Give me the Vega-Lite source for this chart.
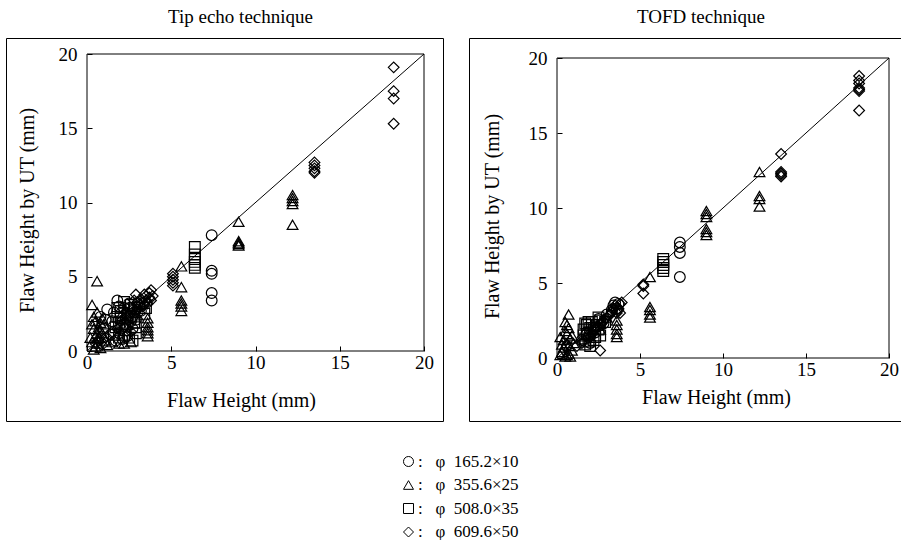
{
  "$schema": "https://vega.github.io/schema/vega-lite/v6.json",
  "padding": {"left": 5, "top": 7, "right": 0, "bottom": 0},
  "background": "white",
  "datasets": {
    "frame": [{"x": 0, "xe": 20, "y": 0, "ye": 20}],
    "diag": [{"x": 0, "y": 0}, {"x": 20, "y": 20}],
    "tip": [
      {"pipe": "165.2×10", "x": 7.4, "y": 7.8}, {"pipe": "165.2×10", "x": 7.4, "y": 5.4}, {"pipe": "165.2×10", "x": 7.4, "y": 5.2}, {"pipe": "165.2×10", "x": 7.4, "y": 3.9}, {"pipe": "165.2×10", "x": 7.4, "y": 3.4},
      {"pipe": "165.2×10", "x": 1.8, "y": 3.4}, {"pipe": "165.2×10", "x": 1.2, "y": 2.8}, {"pipe": "165.2×10", "x": 2.5, "y": 3.2}, {"pipe": "165.2×10", "x": 2.0, "y": 2.5}, {"pipe": "165.2×10", "x": 1.5, "y": 2.0}, {"pipe": "165.2×10", "x": 2.2, "y": 1.8}, {"pipe": "165.2×10", "x": 2.8, "y": 2.6}, {"pipe": "165.2×10", "x": 1.0, "y": 1.5}, {"pipe": "165.2×10", "x": 1.9, "y": 1.2}, {"pipe": "165.2×10", "x": 2.4, "y": 1.0}, {"pipe": "165.2×10", "x": 3.0, "y": 3.0}, {"pipe": "165.2×10", "x": 0.8, "y": 2.3}, {"pipe": "165.2×10", "x": 2.6, "y": 2.0}, {"pipe": "165.2×10", "x": 3.4, "y": 3.3}, {"pipe": "165.2×10", "x": 2.1, "y": 0.8}, {"pipe": "165.2×10", "x": 1.9, "y": 3.0}, {"pipe": "165.2×10", "x": 2.5, "y": 2.9},
      {"pipe": "165.2×10", "x": 1.6, "y": 2.6}, {"pipe": "165.2×10", "x": 2.3, "y": 2.2}, {"pipe": "165.2×10", "x": 2.7, "y": 1.5}, {"pipe": "165.2×10", "x": 1.4, "y": 1.1}, {"pipe": "165.2×10", "x": 2.0, "y": 1.5}, {"pipe": "165.2×10", "x": 2.9, "y": 2.1}, {"pipe": "165.2×10", "x": 1.7, "y": 0.7}, {"pipe": "165.2×10", "x": 2.2, "y": 2.9}, {"pipe": "165.2×10", "x": 3.2, "y": 2.7}, {"pipe": "165.2×10", "x": 1.1, "y": 2.1},
      {"pipe": "355.6×25", "x": 12.2, "y": 10.5}, {"pipe": "355.6×25", "x": 12.2, "y": 10.3}, {"pipe": "355.6×25", "x": 12.2, "y": 10.1}, {"pipe": "355.6×25", "x": 12.2, "y": 9.9}, {"pipe": "355.6×25", "x": 12.2, "y": 8.5},
      {"pipe": "355.6×25", "x": 9.0, "y": 8.7}, {"pipe": "355.6×25", "x": 9.0, "y": 7.4}, {"pipe": "355.6×25", "x": 9.0, "y": 7.3}, {"pipe": "355.6×25", "x": 9.0, "y": 7.2}, {"pipe": "355.6×25", "x": 9.0, "y": 7.1},
      {"pipe": "355.6×25", "x": 5.6, "y": 5.7}, {"pipe": "355.6×25", "x": 5.6, "y": 4.3}, {"pipe": "355.6×25", "x": 5.6, "y": 3.4}, {"pipe": "355.6×25", "x": 5.6, "y": 3.2}, {"pipe": "355.6×25", "x": 5.6, "y": 3.0}, {"pipe": "355.6×25", "x": 5.6, "y": 2.7},
      {"pipe": "355.6×25", "x": 3.6, "y": 2.2}, {"pipe": "355.6×25", "x": 3.6, "y": 1.9}, {"pipe": "355.6×25", "x": 3.6, "y": 1.6}, {"pipe": "355.6×25", "x": 3.6, "y": 1.4}, {"pipe": "355.6×25", "x": 3.6, "y": 1.2}, {"pipe": "355.6×25", "x": 3.6, "y": 1.0},
      {"pipe": "355.6×25", "x": 0.6, "y": 4.7}, {"pipe": "355.6×25", "x": 0.3, "y": 3.1}, {"pipe": "355.6×25", "x": 0.6, "y": 2.6}, {"pipe": "355.6×25", "x": 0.5, "y": 2.0}, {"pipe": "355.6×25", "x": 0.4, "y": 1.5}, {"pipe": "355.6×25", "x": 0.6, "y": 1.2}, {"pipe": "355.6×25", "x": 0.7, "y": 0.9}, {"pipe": "355.6×25", "x": 0.3, "y": 0.6}, {"pipe": "355.6×25", "x": 0.5, "y": 0.3}, {"pipe": "355.6×25", "x": 0.8, "y": 0.2}, {"pipe": "355.6×25", "x": 1.0, "y": 1.8}, {"pipe": "355.6×25", "x": 1.9, "y": 0.5}, {"pipe": "355.6×25", "x": 2.6, "y": 0.6}, {"pipe": "355.6×25", "x": 3.0, "y": 2.4}, {"pipe": "355.6×25", "x": 0.9, "y": 2.2}, {"pipe": "355.6×25", "x": 0.2, "y": 0.9}, {"pipe": "355.6×25", "x": 1.2, "y": 0.4}, {"pipe": "355.6×25", "x": 0.4, "y": 0.1}, {"pipe": "355.6×25", "x": 0.7, "y": 1.6}, {"pipe": "355.6×25", "x": 0.6, "y": 0.5},
      {"pipe": "355.6×25", "x": 0.5, "y": 1.0}, {"pipe": "355.6×25", "x": 0.7, "y": 1.4}, {"pipe": "355.6×25", "x": 0.4, "y": 2.3}, {"pipe": "355.6×25", "x": 0.9, "y": 1.2}, {"pipe": "355.6×25", "x": 0.3, "y": 1.8}, {"pipe": "355.6×25", "x": 1.1, "y": 0.7}, {"pipe": "355.6×25", "x": 0.6, "y": 0.8}, {"pipe": "355.6×25", "x": 0.8, "y": 1.9}, {"pipe": "355.6×25", "x": 2.2, "y": 0.5}, {"pipe": "355.6×25", "x": 1.5, "y": 0.6},
      {"pipe": "508.0×35", "x": 6.4, "y": 7.0}, {"pipe": "508.0×35", "x": 6.4, "y": 6.5}, {"pipe": "508.0×35", "x": 6.4, "y": 6.2}, {"pipe": "508.0×35", "x": 6.4, "y": 6.0}, {"pipe": "508.0×35", "x": 6.4, "y": 5.8}, {"pipe": "508.0×35", "x": 6.4, "y": 5.6},
      {"pipe": "508.0×35", "x": 1.8, "y": 2.9}, {"pipe": "508.0×35", "x": 2.2, "y": 3.3}, {"pipe": "508.0×35", "x": 2.6, "y": 3.1}, {"pipe": "508.0×35", "x": 2.0, "y": 2.2}, {"pipe": "508.0×35", "x": 2.4, "y": 2.4}, {"pipe": "508.0×35", "x": 1.7, "y": 1.6}, {"pipe": "508.0×35", "x": 2.8, "y": 1.9}, {"pipe": "508.0×35", "x": 2.3, "y": 1.4}, {"pipe": "508.0×35", "x": 1.9, "y": 0.9}, {"pipe": "508.0×35", "x": 2.7, "y": 0.7}, {"pipe": "508.0×35", "x": 3.4, "y": 2.5}, {"pipe": "508.0×35", "x": 2.5, "y": 2.8}, {"pipe": "508.0×35", "x": 2.1, "y": 1.7}, {"pipe": "508.0×35", "x": 2.9, "y": 1.2}, {"pipe": "508.0×35", "x": 1.6, "y": 1.1}, {"pipe": "508.0×35", "x": 3.5, "y": 2.9},
      {"pipe": "508.0×35", "x": 2.0, "y": 2.7}, {"pipe": "508.0×35", "x": 2.4, "y": 1.8}, {"pipe": "508.0×35", "x": 2.6, "y": 2.3}, {"pipe": "508.0×35", "x": 1.9, "y": 1.9}, {"pipe": "508.0×35", "x": 2.8, "y": 2.9}, {"pipe": "508.0×35", "x": 2.2, "y": 1.1}, {"pipe": "508.0×35", "x": 3.1, "y": 3.2}, {"pipe": "508.0×35", "x": 1.8, "y": 2.3}, {"pipe": "508.0×35", "x": 2.5, "y": 0.9}, {"pipe": "508.0×35", "x": 2.9, "y": 1.6},
      {"pipe": "609.6×50", "x": 18.2, "y": 19.1}, {"pipe": "609.6×50", "x": 18.2, "y": 17.5}, {"pipe": "609.6×50", "x": 18.2, "y": 17.0}, {"pipe": "609.6×50", "x": 18.2, "y": 15.3},
      {"pipe": "609.6×50", "x": 13.5, "y": 12.7}, {"pipe": "609.6×50", "x": 13.5, "y": 12.5}, {"pipe": "609.6×50", "x": 13.5, "y": 12.3}, {"pipe": "609.6×50", "x": 13.5, "y": 12.1}, {"pipe": "609.6×50", "x": 13.5, "y": 12.0},
      {"pipe": "609.6×50", "x": 5.1, "y": 5.2}, {"pipe": "609.6×50", "x": 5.1, "y": 5.0}, {"pipe": "609.6×50", "x": 5.1, "y": 4.8}, {"pipe": "609.6×50", "x": 5.1, "y": 4.6}, {"pipe": "609.6×50", "x": 5.1, "y": 4.4},
      {"pipe": "609.6×50", "x": 3.8, "y": 4.1}, {"pipe": "609.6×50", "x": 3.7, "y": 3.6}, {"pipe": "609.6×50", "x": 3.5, "y": 3.4}, {"pipe": "609.6×50", "x": 3.2, "y": 3.5}, {"pipe": "609.6×50", "x": 3.9, "y": 3.7}, {"pipe": "609.6×50", "x": 3.3, "y": 3.0}, {"pipe": "609.6×50", "x": 3.6, "y": 3.2}, {"pipe": "609.6×50", "x": 3.0, "y": 2.8}, {"pipe": "609.6×50", "x": 2.9, "y": 3.8}, {"pipe": "609.6×50", "x": 2.7, "y": 2.2}, {"pipe": "609.6×50", "x": 2.3, "y": 2.6}, {"pipe": "609.6×50", "x": 2.0, "y": 2.0}, {"pipe": "609.6×50", "x": 1.8, "y": 1.5}, {"pipe": "609.6×50", "x": 2.6, "y": 1.3}, {"pipe": "609.6×50", "x": 3.1, "y": 2.6}, {"pipe": "609.6×50", "x": 0.5, "y": 0.5}, {"pipe": "609.6×50", "x": 0.8, "y": 0.7}, {"pipe": "609.6×50", "x": 1.1, "y": 0.9}, {"pipe": "609.6×50", "x": 3.4, "y": 3.8}, {"pipe": "609.6×50", "x": 2.8, "y": 3.4},
      {"pipe": "609.6×50", "x": 3.5, "y": 3.7}, {"pipe": "609.6×50", "x": 3.7, "y": 3.9}, {"pipe": "609.6×50", "x": 3.4, "y": 3.1}, {"pipe": "609.6×50", "x": 3.0, "y": 3.3}, {"pipe": "609.6×50", "x": 2.5, "y": 2.4}, {"pipe": "609.6×50", "x": 2.2, "y": 1.6}, {"pipe": "609.6×50", "x": 1.5, "y": 1.3}, {"pipe": "609.6×50", "x": 3.8, "y": 3.4}, {"pipe": "609.6×50", "x": 2.7, "y": 2.8}, {"pipe": "609.6×50", "x": 0.9, "y": 0.4}
    ],
    "tofd": [
      {"pipe": "165.2×10", "x": 7.4, "y": 7.7}, {"pipe": "165.2×10", "x": 7.4, "y": 7.4}, {"pipe": "165.2×10", "x": 7.4, "y": 7.0}, {"pipe": "165.2×10", "x": 7.4, "y": 5.4},
      {"pipe": "165.2×10", "x": 3.5, "y": 3.7}, {"pipe": "165.2×10", "x": 3.4, "y": 3.5}, {"pipe": "165.2×10", "x": 3.6, "y": 3.3}, {"pipe": "165.2×10", "x": 2.5, "y": 2.6}, {"pipe": "165.2×10", "x": 2.2, "y": 2.0}, {"pipe": "165.2×10", "x": 1.8, "y": 1.6}, {"pipe": "165.2×10", "x": 2.8, "y": 2.3}, {"pipe": "165.2×10", "x": 1.5, "y": 1.2}, {"pipe": "165.2×10", "x": 0.6, "y": 0.8}, {"pipe": "165.2×10", "x": 2.0, "y": 1.0},
      {"pipe": "165.2×10", "x": 3.3, "y": 3.2}, {"pipe": "165.2×10", "x": 3.7, "y": 3.6}, {"pipe": "165.2×10", "x": 2.6, "y": 2.2}, {"pipe": "165.2×10", "x": 2.3, "y": 1.7}, {"pipe": "165.2×10", "x": 1.9, "y": 1.4}, {"pipe": "165.2×10", "x": 3.0, "y": 2.9},
      {"pipe": "355.6×25", "x": 12.2, "y": 12.4}, {"pipe": "355.6×25", "x": 12.2, "y": 10.8}, {"pipe": "355.6×25", "x": 12.2, "y": 10.6}, {"pipe": "355.6×25", "x": 12.2, "y": 10.1},
      {"pipe": "355.6×25", "x": 9.0, "y": 9.8}, {"pipe": "355.6×25", "x": 9.0, "y": 9.6}, {"pipe": "355.6×25", "x": 9.0, "y": 9.4}, {"pipe": "355.6×25", "x": 9.0, "y": 8.6}, {"pipe": "355.6×25", "x": 9.0, "y": 8.4}, {"pipe": "355.6×25", "x": 9.0, "y": 8.2},
      {"pipe": "355.6×25", "x": 5.6, "y": 5.4}, {"pipe": "355.6×25", "x": 5.6, "y": 3.4}, {"pipe": "355.6×25", "x": 5.6, "y": 3.2}, {"pipe": "355.6×25", "x": 5.6, "y": 2.9}, {"pipe": "355.6×25", "x": 5.6, "y": 2.7},
      {"pipe": "355.6×25", "x": 3.6, "y": 2.5}, {"pipe": "355.6×25", "x": 3.6, "y": 2.2}, {"pipe": "355.6×25", "x": 3.6, "y": 1.9}, {"pipe": "355.6×25", "x": 3.6, "y": 1.6}, {"pipe": "355.6×25", "x": 3.6, "y": 1.4},
      {"pipe": "355.6×25", "x": 0.7, "y": 2.9}, {"pipe": "355.6×25", "x": 0.5, "y": 2.4}, {"pipe": "355.6×25", "x": 0.7, "y": 2.0}, {"pipe": "355.6×25", "x": 0.6, "y": 1.6}, {"pipe": "355.6×25", "x": 0.4, "y": 1.2}, {"pipe": "355.6×25", "x": 0.7, "y": 0.8}, {"pipe": "355.6×25", "x": 0.3, "y": 0.4}, {"pipe": "355.6×25", "x": 0.6, "y": 0.2}, {"pipe": "355.6×25", "x": 0.8, "y": 0.1}, {"pipe": "355.6×25", "x": 0.2, "y": 1.4}, {"pipe": "355.6×25", "x": 1.0, "y": 1.0}, {"pipe": "355.6×25", "x": 0.9, "y": 0.5}, {"pipe": "355.6×25", "x": 2.6, "y": 1.9}, {"pipe": "355.6×25", "x": 3.0, "y": 2.7},
      {"pipe": "355.6×25", "x": 0.5, "y": 1.8}, {"pipe": "355.6×25", "x": 0.6, "y": 1.0}, {"pipe": "355.6×25", "x": 0.8, "y": 1.3}, {"pipe": "355.6×25", "x": 0.4, "y": 0.7}, {"pipe": "355.6×25", "x": 0.7, "y": 0.3}, {"pipe": "355.6×25", "x": 0.5, "y": 0.1}, {"pipe": "355.6×25", "x": 0.3, "y": 0.9}, {"pipe": "355.6×25", "x": 0.9, "y": 1.5}, {"pipe": "355.6×25", "x": 0.6, "y": 2.2}, {"pipe": "355.6×25", "x": 0.2, "y": 0.2},
      {"pipe": "508.0×35", "x": 6.4, "y": 6.6}, {"pipe": "508.0×35", "x": 6.4, "y": 6.4}, {"pipe": "508.0×35", "x": 6.4, "y": 6.2}, {"pipe": "508.0×35", "x": 6.4, "y": 6.0}, {"pipe": "508.0×35", "x": 6.4, "y": 5.8},
      {"pipe": "508.0×35", "x": 1.7, "y": 2.3}, {"pipe": "508.0×35", "x": 2.0, "y": 2.0}, {"pipe": "508.0×35", "x": 1.8, "y": 1.6}, {"pipe": "508.0×35", "x": 2.2, "y": 1.2}, {"pipe": "508.0×35", "x": 1.7, "y": 0.9}, {"pipe": "508.0×35", "x": 2.4, "y": 2.2}, {"pipe": "508.0×35", "x": 2.6, "y": 1.5}, {"pipe": "508.0×35", "x": 2.1, "y": 2.4}, {"pipe": "508.0×35", "x": 1.9, "y": 1.1}, {"pipe": "508.0×35", "x": 2.5, "y": 2.7}, {"pipe": "508.0×35", "x": 1.6, "y": 1.9}, {"pipe": "508.0×35", "x": 2.9, "y": 2.4},
      {"pipe": "508.0×35", "x": 1.8, "y": 2.2}, {"pipe": "508.0×35", "x": 2.0, "y": 1.7}, {"pipe": "508.0×35", "x": 2.3, "y": 1.4}, {"pipe": "508.0×35", "x": 1.7, "y": 1.3}, {"pipe": "508.0×35", "x": 2.2, "y": 2.0}, {"pipe": "508.0×35", "x": 2.6, "y": 2.5}, {"pipe": "508.0×35", "x": 2.0, "y": 0.8}, {"pipe": "508.0×35", "x": 1.9, "y": 2.4}, {"pipe": "508.0×35", "x": 2.5, "y": 1.9}, {"pipe": "508.0×35", "x": 1.6, "y": 1.5},
      {"pipe": "609.6×50", "x": 18.2, "y": 18.8}, {"pipe": "609.6×50", "x": 18.2, "y": 18.5}, {"pipe": "609.6×50", "x": 18.2, "y": 18.3}, {"pipe": "609.6×50", "x": 18.2, "y": 18.0}, {"pipe": "609.6×50", "x": 18.2, "y": 17.9}, {"pipe": "609.6×50", "x": 18.2, "y": 17.8}, {"pipe": "609.6×50", "x": 18.2, "y": 16.5},
      {"pipe": "609.6×50", "x": 13.5, "y": 13.6}, {"pipe": "609.6×50", "x": 13.5, "y": 12.4}, {"pipe": "609.6×50", "x": 13.5, "y": 12.3}, {"pipe": "609.6×50", "x": 13.5, "y": 12.2}, {"pipe": "609.6×50", "x": 13.5, "y": 12.1},
      {"pipe": "609.6×50", "x": 5.2, "y": 4.9}, {"pipe": "609.6×50", "x": 5.2, "y": 4.8}, {"pipe": "609.6×50", "x": 5.2, "y": 4.3}, {"pipe": "609.6×50", "x": 2.6, "y": 0.5},
      {"pipe": "609.6×50", "x": 3.8, "y": 3.6}, {"pipe": "609.6×50", "x": 3.7, "y": 3.3}, {"pipe": "609.6×50", "x": 3.6, "y": 3.0}, {"pipe": "609.6×50", "x": 3.3, "y": 3.1}, {"pipe": "609.6×50", "x": 3.1, "y": 2.8}, {"pipe": "609.6×50", "x": 2.8, "y": 2.5}, {"pipe": "609.6×50", "x": 3.9, "y": 3.7}, {"pipe": "609.6×50", "x": 2.3, "y": 1.9}, {"pipe": "609.6×50", "x": 2.0, "y": 1.4}, {"pipe": "609.6×50", "x": 1.5, "y": 1.0},
      {"pipe": "609.6×50", "x": 3.5, "y": 3.5}, {"pipe": "609.6×50", "x": 3.4, "y": 3.3}, {"pipe": "609.6×50", "x": 3.2, "y": 2.9}, {"pipe": "609.6×50", "x": 2.9, "y": 2.6}, {"pipe": "609.6×50", "x": 3.7, "y": 3.2}, {"pipe": "609.6×50", "x": 2.4, "y": 2.1}, {"pipe": "609.6×50", "x": 2.7, "y": 2.3}, {"pipe": "609.6×50", "x": 3.8, "y": 3.0}, {"pipe": "609.6×50", "x": 2.1, "y": 1.6}, {"pipe": "609.6×50", "x": 1.2, "y": 0.8}
    ]
  },
  "hconcat": [
    {
      "width": 437,
      "height": 383,
      "title": {"text": "Tip echo technique", "offset": 11, "dx": 16},
      "layer": [
        {
          "data": {"name": "frame"},
          "mark": {"type": "rect", "fillOpacity": 0, "stroke": "black", "strokeWidth": 1},
          "encoding": {
            "x": {"field": "x", "type": "quantitative", "scale": {"domain": [0, 20], "range": [81, 418], "nice": false, "zero": false},
                  "axis": {"title": "Flaw Height (mm)", "values": [0, 5, 10, 15, 20], "offset": -70, "tickSize": -5, "labelPadding": 7, "titlePadding": 18, "titleX": 235}},
            "x2": {"field": "xe"},
            "y": {"field": "y", "type": "quantitative", "scale": {"domain": [0, 20], "range": [313, 16], "nice": false, "zero": false},
                  "axis": {"title": "Flaw Height by UT (mm)", "values": [0, 5, 10, 15, 20], "offset": -81, "tickSize": -5, "labelPadding": 15, "titlePadding": 21, "titleY": 172}},
            "y2": {"field": "ye"}
          }
        },
        {
          "data": {"name": "diag"},
          "mark": {"type": "line", "color": "black", "strokeWidth": 1},
          "encoding": {"x": {"field": "x", "type": "quantitative"}, "y": {"field": "y", "type": "quantitative"}}
        },
        {
          "data": {"name": "tip"},
          "mark": {"type": "point", "filled": false, "color": "black", "strokeWidth": 1.2, "size": 115, "opacity": 1},
          "encoding": {
            "x": {"field": "x", "type": "quantitative"},
            "y": {"field": "y", "type": "quantitative"},
            "shape": {"field": "pipe", "type": "nominal",
                      "scale": {"domain": ["165.2×10", "355.6×25", "508.0×35", "609.6×50"], "range": ["circle", "triangle-up", "square", "diamond"]},
                      "legend": {"title": null, "orient": "none", "legendX": 394, "legendY": 415, "direction": "vertical", "labelExpr": "':\u00a0\u00a0\u00a0φ\u00a0\u00a0' + datum.label"}}
          }
        }
      ]
    },
    {
      "width": 434,
      "height": 383,
      "title": {"text": "TOFD technique", "offset": 11, "dx": 15},
      "layer": [
        {
          "data": {"name": "frame"},
          "mark": {"type": "rect", "fillOpacity": 0, "stroke": "black", "strokeWidth": 1},
          "encoding": {
            "x": {"field": "x", "type": "quantitative", "scale": {"domain": [0, 20], "range": [88, 420], "nice": false, "zero": false},
                  "axis": {"title": "Flaw Height (mm)", "values": [0, 5, 10, 15, 20], "offset": -63, "tickSize": -5, "labelPadding": 7, "titlePadding": 8, "titleX": 247}},
            "x2": {"field": "xe"},
            "y": {"field": "y", "type": "quantitative", "scale": {"domain": [0, 20], "range": [320, 20], "nice": false, "zero": false},
                  "axis": {"title": "Flaw Height by UT (mm)", "values": [0, 5, 10, 15, 20], "offset": -88, "tickSize": -5, "labelPadding": 15, "titlePadding": 26, "titleY": 178}},
            "y2": {"field": "ye"}
          }
        },
        {
          "data": {"name": "diag"},
          "mark": {"type": "line", "color": "black", "strokeWidth": 1},
          "encoding": {"x": {"field": "x", "type": "quantitative"}, "y": {"field": "y", "type": "quantitative"}}
        },
        {
          "data": {"name": "tofd"},
          "mark": {"type": "point", "filled": false, "color": "black", "strokeWidth": 1.2, "size": 115, "opacity": 1},
          "encoding": {
            "x": {"field": "x", "type": "quantitative"},
            "y": {"field": "y", "type": "quantitative"},
            "shape": {"field": "pipe", "type": "nominal"}
          }
        }
      ]
    }
  ],
  "spacing": 24,
  "resolve": {"scale": {"x": "independent", "y": "independent", "shape": "shared"}, "legend": {"shape": "shared"}},
  "config": {
    "view": {"stroke": "black", "strokeWidth": 1},
    "font": "Liberation Serif",
    "title": {"font": "Liberation Serif", "fontSize": 19, "fontWeight": "normal", "color": "black"},
    "axis": {"labelFont": "Liberation Serif", "titleFont": "Liberation Serif", "labelFontSize": 19, "titleFontSize": 20, "titleFontWeight": "normal",
             "labelColor": "black", "titleColor": "black", "tickColor": "black", "tickWidth": 1, "grid": false, "domain": false,
             "labelFlush": false, "labelOverlap": false, "labelBound": false},
    "legend": {"labelFont": "Liberation Serif", "labelFontSize": 17, "labelColor": "black", "symbolSize": 100, "symbolStrokeColor": "black",
               "symbolStrokeWidth": 1, "symbolFillColor": "transparent", "labelOffset": 1, "rowPadding": 5.5, "padding": 0, "labelLimit": 300}
  }
}
